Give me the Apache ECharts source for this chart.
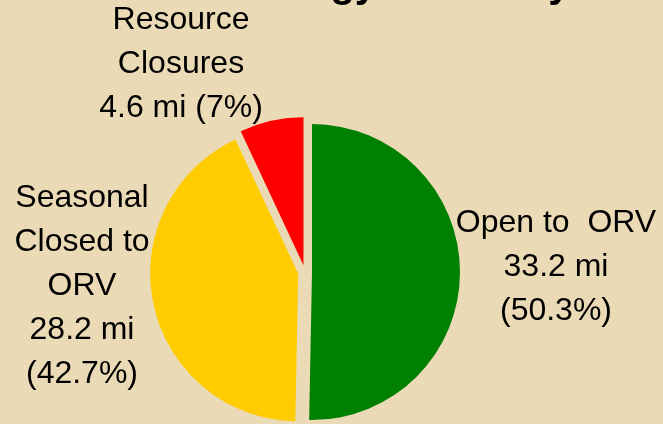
<!DOCTYPE html>
<html>
<head>
<meta charset="utf-8">
<script src="https://cdn.jsdelivr.net/npm/echarts@6/dist/echarts.min.js"></script>
<style>
html,body{margin:0;padding:0;background:#EBDAB6;}
#chart{width:663px;height:424px;}
</style>
</head>
<body>
<div id="chart"></div>
<script>
var categories = ['Open to  ORV', 'Seasonal\nClosed to\nORV', 'Resource\nClosures'];
var miles = [33.2, 28.2, 4.6];
var percentLabels = ['50.3%', '42.7%', '7%'];
var colors = ['#008000', '#FFCC00', '#FF0000'];

var labelTexts = [
  categories[0] + '\n' + miles[0] + ' mi\n(' + percentLabels[0] + ')',
  categories[1] + '\n' + miles[1] + ' mi\n(' + percentLabels[1] + ')',
  categories[2] + '\n' + miles[2] + ' mi (' + percentLabels[2] + ')'
];
var labelPos = [[556, 267], [82, 286], [181, 64]];
var labelFont = '32px "Liberation Sans", Arial, sans-serif';

var chart = echarts.init(document.getElementById('chart'));
var graphics = [{
  type: 'text', x: 217, y: 6,
  style: { text: 'Strategy Summary', font: 'bold 40px "Liberation Sans", Arial', fill: '#000', verticalAlign: 'bottom', align: 'left' }
}];
labelTexts.forEach(function (t, i) {
  graphics.push({
    type: 'text', x: labelPos[i][0], y: labelPos[i][1],
    style: { text: t, font: labelFont, lineHeight: 44, fill: '#000', align: 'center', verticalAlign: 'middle' }
  });
});
chart.setOption({
  backgroundColor: '#EBDAB6',
  animation: false,
  graphic: graphics,
  series: [{
    type: 'pie',
    center: [305, 272],
    radius: 148,
    startAngle: 90,
    clockwise: true,
    selectedMode: 'multiple',
    selectedOffset: 7,
    emphasis: { disabled: true },
    label: { show: false },
    labelLine: { show: false },
    data: miles.map(function (v, i) {
      return { value: v, name: categories[i], selected: true, itemStyle: { color: colors[i] } };
    })
  }]
});
</script>
</body>
</html>
